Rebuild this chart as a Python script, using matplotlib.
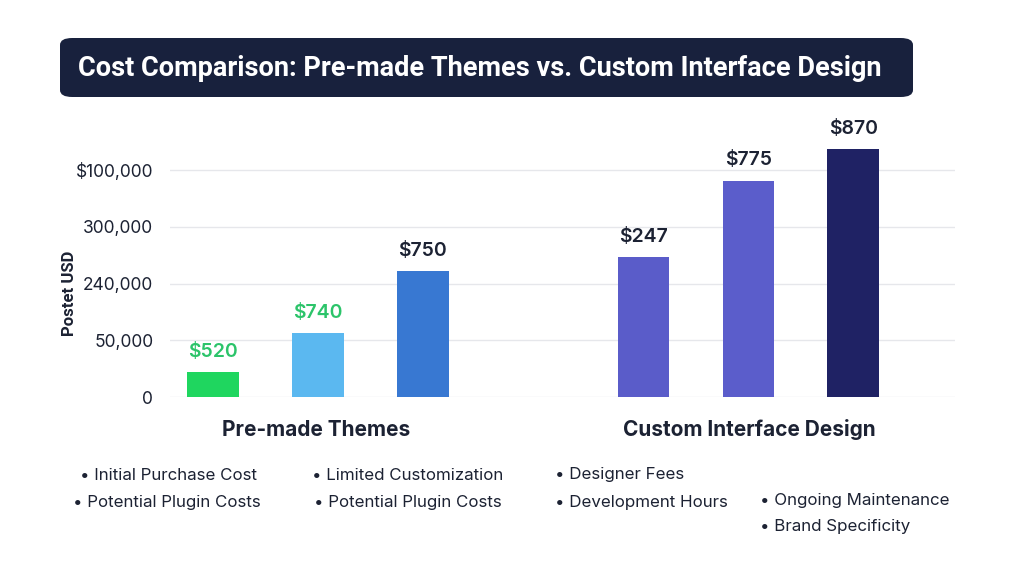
import matplotlib.pyplot as plt
from matplotlib.patches import FancyBboxPatch

# ---------------- data ----------------
bar_labels = ["$520", "$740", "$750", "$247", "$775", "$870"]
bar_heights = [0.44, 1.13, 2.22, 2.47, 3.81, 4.37]   # in tick-step units
bar_pos = [0, 1, 2, 4.1, 5.1, 6.1]
bar_colors = ["#1fd65f", "#5bb8f0", "#3878d2", "#5a5cc9", "#5b5dcb", "#1f2264"]
label_colors = ["#2cc46a", "#2cc46a", "#1c2233", "#1c2233", "#1c2233", "#1c2233"]

ytick_vals = [0, 1, 2, 3, 4]
ytick_labels = ["0", "50,000", "240,000", "300,000", "$100,000"]

groups = ["Pre-made Themes", "Custom Interface Design"]

bullets = [
    ("Initial Purchase Cost", 80, 475),
    ("Potential Plugin Costs", 73, 502),
    ("Limited Customization", 312, 475),
    ("Potential Plugin Costs", 314, 502),
    ("Designer Fees", 555, 475),
    ("Development Hours", 555, 502),
    ("Ongoing Maintenance", 760, 500),
    ("Brand Specificity", 760, 527),
]

plt.rcParams['font.family'] = ['Inter', 'DejaVu Sans']
dark = "#1c2233"

W, H = 1024, 576
fig = plt.figure(figsize=(W / 100, H / 100), dpi=100)
fig.patch.set_facecolor("white")

def fx(px):
    return px / W

def fy(py):
    return 1 - py / H

# title box
box = FancyBboxPatch((fx(60), fy(97)), fx(913) - fx(60), fy(38) - fy(97),
                     boxstyle="round,pad=0,rounding_size=0.012",
                     transform=fig.transFigure, facecolor="#18213d",
                     edgecolor="none", zorder=0)
fig.patches.append(box)
fig.text(fx(78), fy(68), "Cost Comparison: Pre-made Themes vs. Custom Interface Design",
         color="white", fontsize=19.5, fontweight="bold", va="center", ha="left",
         family=["Roboto", "DejaVu Sans"])

# main axes
ax = fig.add_axes([fx(170), fy(397), fx(955) - fx(170), fy(136) - fy(397)])
ax.set_xlim(-0.41, 7.07)
ax.set_ylim(0, 4.6)

bars = ax.bar(bar_pos, bar_heights, width=0.49, color=bar_colors, zorder=3)
for x, h, lab, c in zip(bar_pos, bar_heights, bar_labels, label_colors):
    ax.text(x, h + 0.2, lab, ha="center", va="bottom", fontsize=14,
            fontweight="semibold", color=c)

ax.set_yticks(ytick_vals)
ax.set_yticklabels(ytick_labels, fontsize=12.5, color=dark)
ax.tick_params(axis="y", length=0, pad=12)
ax.set_xticks([])
ax.grid(axis="y", color="#e6e7eb", linewidth=1, zorder=0)
for s in ax.spines.values():
    s.set_visible(False)

fig.text(fx(70), fy(293), "Postet USD", rotation=90, ha="center", va="center",
         fontsize=12, fontweight="semibold", color=dark,
         family=["Roboto", "DejaVu Sans"])

# group labels
fig.text(fx(316), fy(430), groups[0], ha="center", va="center",
         fontsize=15, fontweight="bold", color=dark)
fig.text(fx(749), fy(430), groups[1], ha="center", va="center",
         fontsize=15, fontweight="bold", color=dark)

# bullet notes
for txt, x, y in bullets:
    fig.text(fx(x), fy(y), "\u2022 " + txt, ha="left", va="center",
             fontsize=12.2, color=dark)

fig.savefig("out.png", dpi=100)
